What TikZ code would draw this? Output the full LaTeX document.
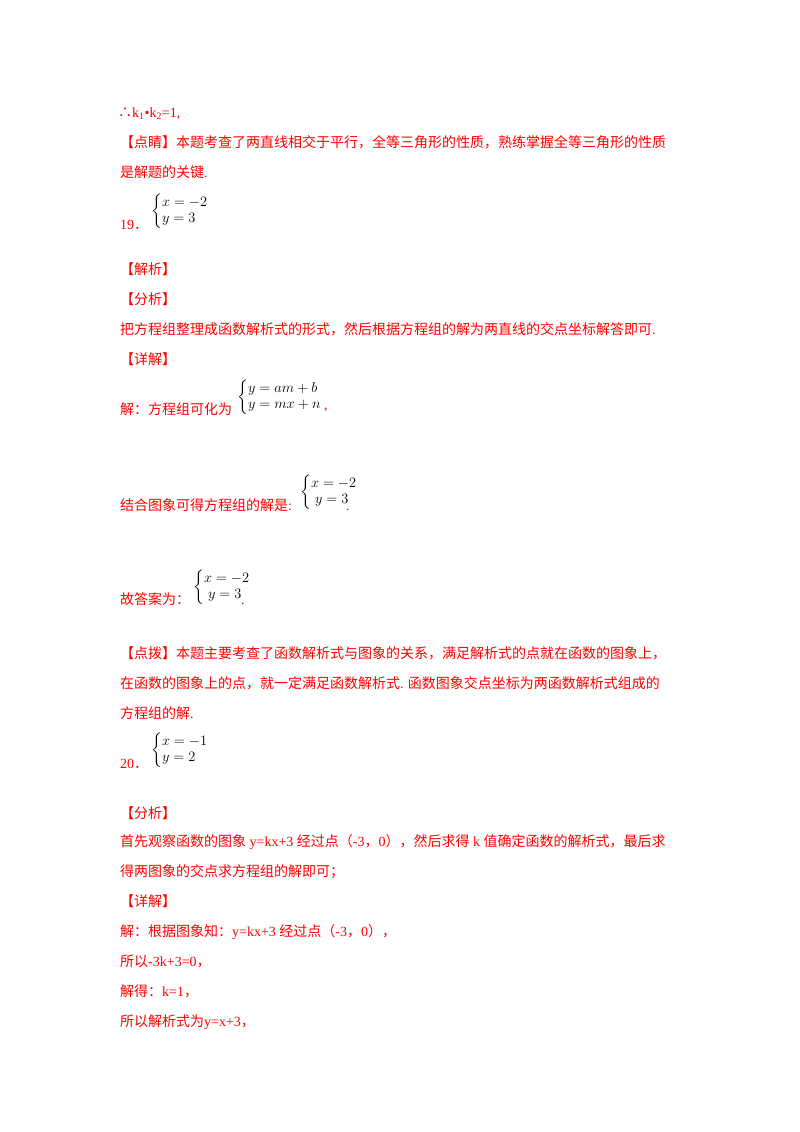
\documentclass[tikz,border=0pt]{standalone}
\usepackage{amsmath}
\usepackage{fontspec}
\setmainfont{Noto Sans CJK SC}
\newfontfamily\lat{Liberation Serif}
\definecolor{red1}{RGB}{255,0,0}
\tikzset{tx/.style={anchor=base west,inner sep=0pt,text=red1,font=\fontsize{14}{14}\selectfont},
 eq/.style={anchor=west,inner sep=0pt,text=black,font=\fontsize{15}{15}\selectfont}}
\newcommand{\sys}[2]{$\left\{\renewcommand{\arraystretch}{1.05}\begin{array}{@{}l@{}}#1\\#2\end{array}\right.$}
\begin{document}
\begin{tikzpicture}[x=1pt,y=1pt]
\useasboundingbox (0,0) rectangle (800,-1132);
\fill[white] (0,0) rectangle (800,-1132);
\node[tx] (a1) at (118,-117) {∴{\lat k\textsubscript{1}•k\textsubscript{2}=1,}};
\node[tx] (a2) at (120,-147) {【点睛】本题考查了两直线相交于平行，全等三角形的性质，熟练掌握全等三角形的性质};
\node[tx] (a3) at (120,-177) {是解题的关键{\lat .}};
\node[tx] (a4) at (120,-229) {{\lat 19}．};
\node[eq] (e1) at (151,-211) {\sys{x=-2}{y=3}};
\node[tx] (a5) at (120,-274) {【解析】};
\node[tx] (a6) at (120,-304) {【分析】};
\node[tx] (a7) at (120,-334) {把方程组整理成函数解析式的形式，然后根据方程组的解为两直线的交点坐标解答即可{\lat .}};
\node[tx] (a8) at (120,-364) {【详解】};
\node[tx] (a9) at (120,-414) {解：方程组可化为};
\node[eq] (e2) at (237,-397) {\sys{y=am+b}{y=mx+n}};
\node[tx] (a9b) at (e2.south east) [anchor=base west,yshift=5,xshift=2] {{\lat ,}};
\node[tx] (a10) at (120,-510) {结合图象可得方程组的解是{\lat :}};
\node[eq] (e3) at (300,-492) {\sys{x=-2}{\;y=3\;}};
\node[tx] (a10b) at (346,-510) {{\lat .}};
\node[tx] (a11) at (120,-604) {故答案为：};
\node[eq] (e4) at (193,-587) {\sys{x=-2}{\;y=3\;}};
\node[tx] (a11b) at (241,-604) {{\lat .}};
\node[tx] (a12) at (120,-658) {【点拨】本题主要考查了函数解析式与图象的关系，满足解析式的点就在函数的图象上，};
\node[tx] (a13) at (120,-688) {在函数的图象上的点，就一定满足函数解析式{\lat .} 函数图象交点坐标为两函数解析式组成的};
\node[tx] (a14) at (120,-718) {方程组的解{\lat .}};
\node[tx] (a15) at (120,-768) {{\lat 20}．};
\node[eq] (e5) at (151,-750) {\sys{x=-1}{y=2}};
\node[tx] (a16) at (120,-818) {【分析】};
\node[tx] (a17) at (120,-846) {首先观察函数的图象{\lat\ y=kx+3 }经过点（{\lat -3}，{\lat 0}），然后求得{\lat\ k }值确定函数的解析式，最后求};
\node[tx] (a18) at (120,-876) {得两图象的交点求方程组的解即可；};
\node[tx] (a19) at (120,-906) {【详解】};
\node[tx] (a20) at (120,-936) {解：根据图象知：{\lat y=kx+3 }经过点（{\lat -3}，{\lat 0}），};
\node[tx] (a21) at (120,-966) {所以{\lat -3k+3=0}，};
\node[tx] (a22) at (120,-996) {解得：{\lat k=1}，};
\node[tx] (a23) at (120,-1026) {所以解析式为{\lat y=x+3}，};
\end{tikzpicture}
\end{document}
